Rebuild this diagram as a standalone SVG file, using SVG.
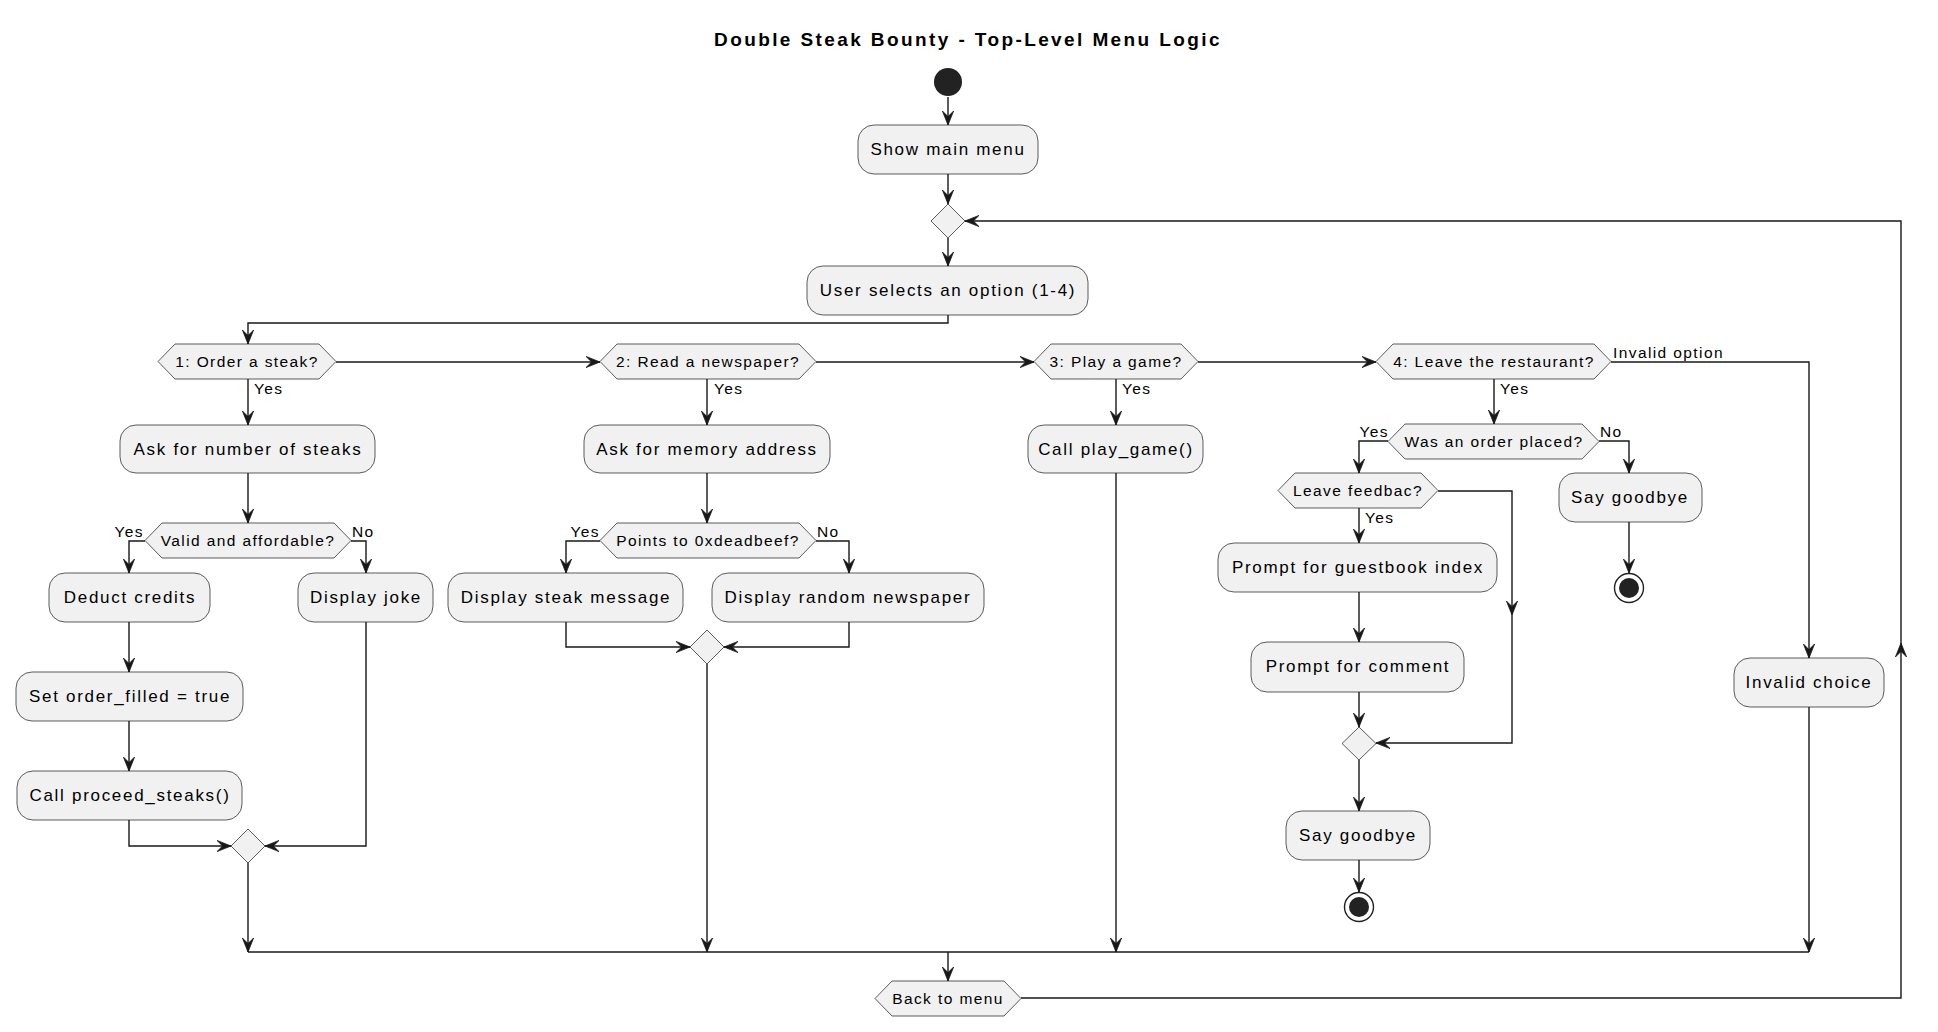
<svg xmlns="http://www.w3.org/2000/svg" width="1938" height="1032" viewBox="0 0 1938 1032">
<defs>
<style>
.box{fill:#F1F1F1;stroke:#181818;stroke-width:0.7}
.hex{fill:#F1F1F1;stroke:#181818;stroke-width:0.7}
.t{font-family:"Liberation Sans",Arial,sans-serif;font-size:17px;letter-spacing:1.7px;text-anchor:middle;fill:#000}
.dt{font-family:"Liberation Sans",Arial,sans-serif;font-size:15.5px;letter-spacing:1.4px;text-anchor:middle;fill:#000}
.lbl{font-family:"Liberation Sans",Arial,sans-serif;font-size:15.5px;letter-spacing:1.4px;fill:#000}
.end{text-anchor:end}
.ln{fill:none;stroke:#181818;stroke-width:1.4}
.ar{marker-end:url(#arrow)}
.title{font-family:"Liberation Sans",Arial,sans-serif;font-size:19px;font-weight:bold;letter-spacing:2.4px;text-anchor:middle;fill:#000}
</style>
<marker id="arrow" markerUnits="userSpaceOnUse" markerWidth="16" markerHeight="14" refX="14" refY="6" orient="auto" viewBox="0 0 16 14">
<path d="M0,0.4 L14,6 L0,11.6 L5.6,6 Z" fill="#181818" stroke="#181818" stroke-width="0.8"/>
</marker>
</defs>
<rect width="1938" height="1032" fill="#FFFFFF"/>
<text class="title" x="968" y="46">Double Steak Bounty - Top-Level Menu Logic</text>

<g id="connectors">
<path class="ln ar" d="M948,97 L948,125"/>
<path class="ln ar" d="M948,174 L948,204"/>
<path class="ln ar" d="M948,238 L948,266"/>
<path class="ln ar" d="M948,315 L948,323 L248,323 L248,344"/>
<path class="ln ar" d="M336,362 L600,362"/>
<path class="ln ar" d="M816,362 L1034,362"/>
<path class="ln ar" d="M1198,362 L1376,362"/>
<path class="ln ar" d="M1611,362 L1809,362 L1809,658"/>
<!-- col A -->
<path class="ln ar" d="M248,379 L248,425"/>
<path class="ln ar" d="M248,473 L248,523"/>
<path class="ln ar" d="M145,541 L129,541 L129,573"/>
<path class="ln ar" d="M351,541 L366,541 L366,573"/>
<path class="ln ar" d="M129,622 L129,672"/>
<path class="ln ar" d="M129,721 L129,771"/>
<path class="ln ar" d="M129,820 L129,846 L231,846"/>
<path class="ln ar" d="M366,622 L366,846 L265,846"/>
<path class="ln ar" d="M248,863 L248,952"/>
<!-- col B -->
<path class="ln ar" d="M707,379 L707,425"/>
<path class="ln ar" d="M707,473 L707,523"/>
<path class="ln ar" d="M600,541 L566,541 L566,573"/>
<path class="ln ar" d="M816,541 L849,541 L849,573"/>
<path class="ln ar" d="M566,622 L566,647 L690,647"/>
<path class="ln ar" d="M849,622 L849,647 L724,647"/>
<path class="ln ar" d="M707,664 L707,952"/>
<!-- col C -->
<path class="ln ar" d="M1116,379 L1116,425"/>
<path class="ln ar" d="M1116,473 L1116,952"/>
<!-- col D -->
<path class="ln ar" d="M1494,379 L1494,424"/>
<path class="ln ar" d="M1388,441 L1359,441 L1359,473"/>
<path class="ln ar" d="M1599,441 L1629,441 L1629,473"/>
<path class="ln ar" d="M1629,522 L1629,573"/>
<path class="ln ar" d="M1438,491 L1512,491 L1512,615"/>
<path class="ln ar" d="M1512,615 L1512,743 L1376,743"/>
<path class="ln ar" d="M1359,508 L1359,543"/>
<path class="ln ar" d="M1359,592 L1359,642"/>
<path class="ln ar" d="M1359,692 L1359,727"/>
<path class="ln ar" d="M1359,760 L1359,811"/>
<path class="ln ar" d="M1359,860 L1359,892"/>
<path class="ln ar" d="M1809,707 L1809,952"/>
<!-- bottom -->
<path class="ln" d="M248,952 L1809,952"/>
<path class="ln ar" d="M948,952 L948,981"/>
<path class="ln ar" d="M1021,998 L1901,998 L1901,643"/>
<path class="ln ar" d="M1901,643 L1901,221 L965,221"/>
</g>

<g id="labels">
<text class="lbl" x="254" y="394">Yes</text>
<text class="lbl end" x="144" y="537">Yes</text>
<text class="lbl" x="352" y="537">No</text>
<text class="lbl" x="714" y="394">Yes</text>
<text class="lbl end" x="600" y="537">Yes</text>
<text class="lbl" x="817" y="537">No</text>
<text class="lbl" x="1122" y="394">Yes</text>
<text class="lbl" x="1500" y="394">Yes</text>
<text class="lbl" x="1613" y="358">Invalid option</text>
<text class="lbl end" x="1389" y="437">Yes</text>
<text class="lbl" x="1600" y="437">No</text>
<text class="lbl" x="1365" y="523">Yes</text>
</g>

<g id="start"><circle cx="948" cy="82" r="14" fill="#222222"/></g>
<g id="show-menu"><rect class="box" x="858" y="125" width="180" height="49" rx="16"/><text class="t" x="948" y="155">Show main menu</text></g>
<g id="merge-top"><polygon class="hex" points="948,204 965,221 948,238 931,221"/></g>
<g id="user-selects"><rect class="box" x="807" y="266" width="281" height="49" rx="16"/><text class="t" x="948" y="296">User selects an option (1-4)</text></g>

<g id="q1"><polygon class="hex" points="158,361.5 175,344 319,344 336,361.5 319,379 175,379"/><text class="dt" x="247" y="367">1: Order a steak?</text></g>
<g id="ask-steaks"><rect class="box" x="120" y="425" width="255" height="48" rx="16"/><text class="t" x="248" y="455">Ask for number of steaks</text></g>
<g id="q-valid"><polygon class="hex" points="145,540.5 162,523 334,523 351,540.5 334,558 162,558"/><text class="dt" x="248" y="546">Valid and affordable?</text></g>
<g id="deduct"><rect class="box" x="49" y="573" width="161" height="49" rx="16"/><text class="t" x="130" y="603">Deduct credits</text></g>
<g id="joke"><rect class="box" x="298" y="573" width="135" height="49" rx="16"/><text class="t" x="366" y="603">Display joke</text></g>
<g id="set-order"><rect class="box" x="16" y="672" width="227" height="49" rx="16"/><text class="t" x="130" y="702">Set order_filled = true</text></g>
<g id="proceed"><rect class="box" x="17" y="771" width="225" height="49" rx="16"/><text class="t" x="130" y="801">Call proceed_steaks()</text></g>
<g id="merge-a"><polygon class="hex" points="248,829 265,846 248,863 231,846"/></g>

<g id="q2"><polygon class="hex" points="600,361.5 617,344 799,344 816,361.5 799,379 617,379"/><text class="dt" x="708" y="367">2: Read a newspaper?</text></g>
<g id="ask-mem"><rect class="box" x="584" y="425" width="246" height="48" rx="16"/><text class="t" x="707" y="455">Ask for memory address</text></g>
<g id="q-dead"><polygon class="hex" points="600,540.5 617,523 799,523 816,540.5 799,558 617,558"/><text class="dt" x="708" y="546">Points to 0xdeadbeef?</text></g>
<g id="steak-msg"><rect class="box" x="448" y="573" width="235" height="49" rx="16"/><text class="t" x="566" y="603">Display steak message</text></g>
<g id="random-news"><rect class="box" x="712" y="573" width="272" height="49" rx="16"/><text class="t" x="848" y="603">Display random newspaper</text></g>
<g id="merge-b"><polygon class="hex" points="707,630 724,647 707,664 690,647"/></g>

<g id="q3"><polygon class="hex" points="1034,361.5 1051,344 1181,344 1198,361.5 1181,379 1051,379"/><text class="dt" x="1116" y="367">3: Play a game?</text></g>
<g id="play-game"><rect class="box" x="1028" y="425" width="175" height="48" rx="16"/><text class="t" x="1116" y="455">Call play_game()</text></g>

<g id="q4"><polygon class="hex" points="1376,361.5 1393,344 1594,344 1611,361.5 1594,379 1393,379"/><text class="dt" x="1494" y="367">4: Leave the restaurant?</text></g>
<g id="q-order"><polygon class="hex" points="1388,441.5 1405,424 1582,424 1599,441.5 1582,459 1405,459"/><text class="dt" x="1494" y="447">Was an order placed?</text></g>
<g id="q-feedback"><polygon class="hex" points="1278,490.5 1295,473 1421,473 1438,490.5 1421,508 1295,508"/><text class="dt" x="1358" y="496">Leave feedbac?</text></g>
<g id="guestbook"><rect class="box" x="1218" y="543" width="279" height="49" rx="16"/><text class="t" x="1358" y="573">Prompt for guestbook index</text></g>
<g id="comment"><rect class="box" x="1251" y="642" width="213" height="50" rx="16"/><text class="t" x="1358" y="672">Prompt for comment</text></g>
<g id="merge-d"><polygon class="hex" points="1359,727 1376,743.5 1359,760 1342,743.5"/></g>
<g id="goodbye-1"><rect class="box" x="1286" y="811" width="144" height="49" rx="16"/><text class="t" x="1358" y="841">Say goodbye</text></g>
<g id="end-1"><circle cx="1359" cy="907" r="14.5" fill="#FFFFFF" stroke="#222222" stroke-width="1.4"/><circle cx="1359" cy="907" r="10" fill="#222222"/></g>
<g id="goodbye-2"><rect class="box" x="1559" y="473" width="143" height="49" rx="16"/><text class="t" x="1630" y="503">Say goodbye</text></g>
<g id="end-2"><circle cx="1629" cy="588" r="14.5" fill="#FFFFFF" stroke="#222222" stroke-width="1.4"/><circle cx="1629" cy="588" r="10" fill="#222222"/></g>
<g id="invalid"><rect class="box" x="1734" y="658" width="150" height="49" rx="16"/><text class="t" x="1809" y="688">Invalid choice</text></g>

<g id="back-menu"><polygon class="hex" points="875,998.5 892,981 1004,981 1021,998.5 1004,1016 892,1016"/><text class="dt" x="948" y="1004">Back to menu</text></g>
</svg>
